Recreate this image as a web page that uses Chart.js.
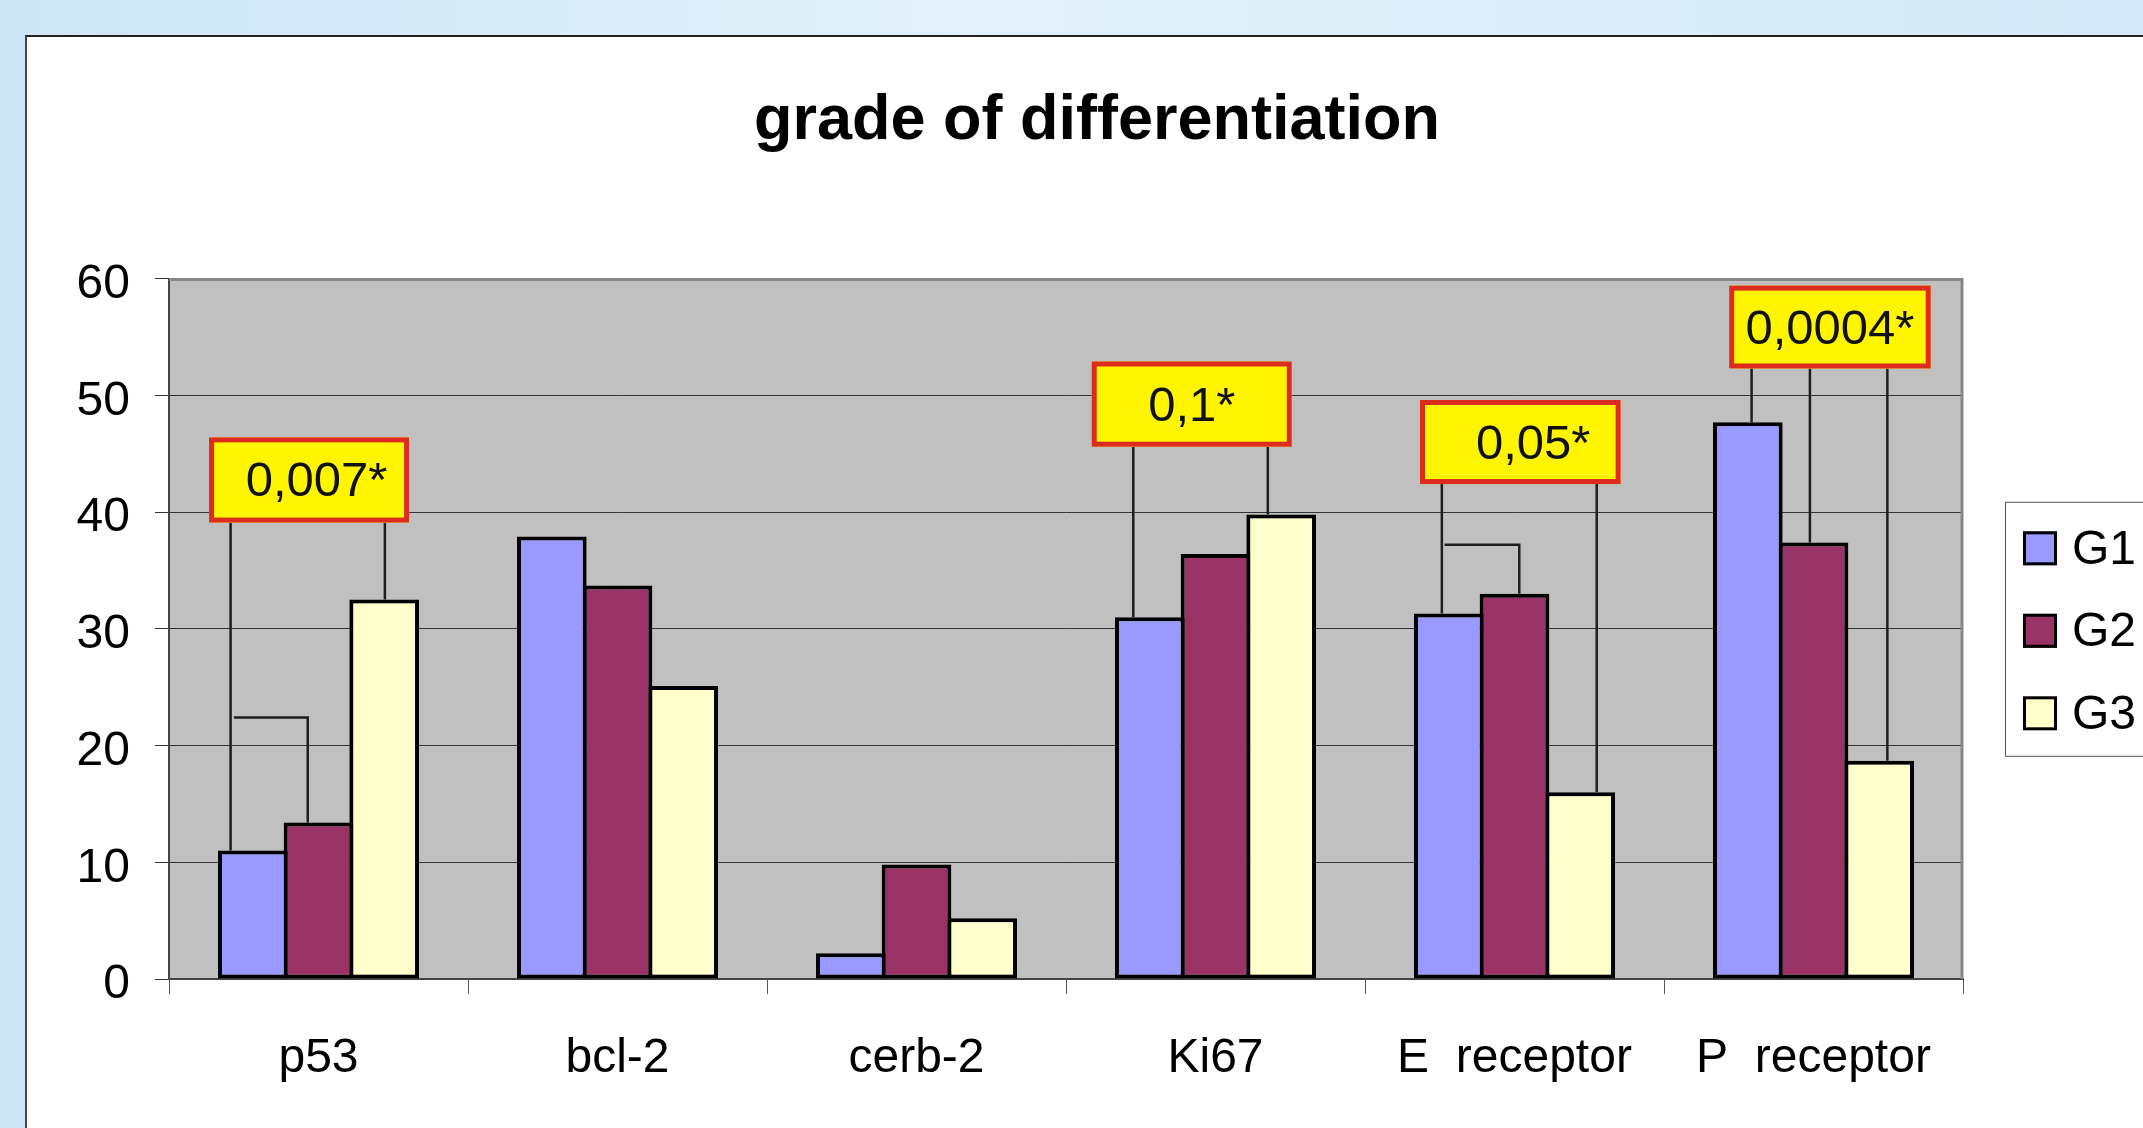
<!DOCTYPE html>
<html>
<head>
<meta charset="utf-8">
<script src="https://cdn.jsdelivr.net/npm/chart.js@4.4.1/dist/chart.umd.min.js"></script>
<style>
  html, body { margin: 0; padding: 0; width: 2143px; height: 1128px; overflow: hidden; }
  body { position: relative; background: linear-gradient(to right, #cde6f6 0%, #e2f1fb 45%, #d4eaf8 100%); }
  #panel { position: absolute; left: 25px; top: 35px; right: -10px; bottom: -10px; background: #fff;
           border-top: 2px solid #222; border-left: 2px solid #444; }
  #wrap { position: absolute; left: 26px; top: 38px; width: 2117px; height: 1090px; }
</style>
</head>
<body>
<div id="panel"></div>
<div id="wrap"><canvas id="myChart" width="2117" height="1090"></canvas></div>
<script>
// data
const categories = ['p53', 'bcl-2', 'cerb-2', 'Ki67', 'E  receptor', 'P  receptor'];
const seriesNames = ['G1', 'G2', 'G3'];
const g1 = [11, 37.9, 2.2, 31, 31.3, 47.7];
const g2 = [13.4, 33.7, 9.8, 36.4, 33, 37.4];
const g3 = [32.5, 25.1, 5.2, 39.8, 16, 18.7];
const yMax = 60;
const yStep = 10;

// p-value callouts: box and leg x are fractions of a category band, y in data units
const pNotes = [
  { cat: 0, text: '0,007*', box: [-0.366, 0.303, 46.4, 39.1], dx: 0.025,
    legs: [[-0.294, 0], [0.222, 2]], bracket: [-0.283, -0.036, 22.4, 1] },
  { cat: 3, text: '0,1*', box: [-0.414, 0.255, 52.9, 45.6], dx: 0,
    legs: [[-0.275, 0], [0.175, 2]] },
  { cat: 4, text: '0,05*', box: [-0.316, 0.355, 49.6, 42.4], dx: 0.043,
    legs: [[-0.243, 0], [0.275, 2]], bracket: [-0.234, 0.016, 37.2, 1] },
  { cat: 5, text: '0,0004*', box: [-0.282, 0.392, 59.4, 52.3], dx: 0,
    legs: [[-0.207, 0], [-0.012, 1], [0.247, 2]] }
];

const FONT = "'Liberation Sans', Arial, sans-serif";
Chart.defaults.font.family = FONT;

const plotFrame = {
  id: 'plotFrame',
  beforeDraw(chart) {
    const { ctx, chartArea: a } = chart;
    ctx.save();
    ctx.fillStyle = '#c0c0c0';
    ctx.fillRect(a.left, a.top, a.width, a.height);
    ctx.restore();
  },
  beforeDatasetsDraw(chart) {
    const { ctx, chartArea: a } = chart;
    ctx.save();
    ctx.strokeStyle = '#878787';
    ctx.lineWidth = 3;
    ctx.beginPath();
    ctx.moveTo(a.left, a.top + 1);
    ctx.lineTo(a.right - 1, a.top + 1);
    ctx.lineTo(a.right - 1, a.bottom);
    ctx.stroke();
    ctx.restore();
  }
};

const notesPlugin = {
  id: 'pNotes',
  afterDatasetsDraw(chart) {
    const { ctx, scales: { x, y } } = chart;
    const band = x.width / chart.data.labels.length;
    ctx.save();
    pNotes.forEach(n => {
      const cx = x.getPixelForValue(n.cat);
      const px = f => cx + f * band;
      const barTop = s => y.getPixelForValue(chart.data.datasets[s].data[n.cat]);
      const bx0 = px(n.box[0]), bx1 = px(n.box[1]);
      const by0 = y.getPixelForValue(n.box[2]), by1 = y.getPixelForValue(n.box[3]);

      ctx.strokeStyle = '#1e1e1e';
      ctx.lineWidth = 2.5;
      ctx.beginPath();
      n.legs.forEach(([f, s]) => {
        ctx.moveTo(px(f), by1);
        ctx.lineTo(px(f), barTop(s));
      });
      if (n.bracket) {
        const [f0, f1, v, s] = n.bracket;
        const yy = y.getPixelForValue(v);
        ctx.moveTo(px(f0), yy);
        ctx.lineTo(px(f1), yy);
        ctx.lineTo(px(f1), barTop(s));
      }
      ctx.stroke();

      ctx.fillStyle = '#fff500';
      ctx.fillRect(bx0, by0, bx1 - bx0, by1 - by0);
      ctx.strokeStyle = '#dc2b1f';
      ctx.lineWidth = 5;
      ctx.strokeRect(bx0 + 2.5, by0 + 2.5, bx1 - bx0 - 5, by1 - by0 - 5);

      ctx.fillStyle = '#111';
      ctx.font = '49px ' + FONT;
      ctx.textAlign = 'center';
      ctx.textBaseline = 'middle';
      ctx.fillText(n.text, (bx0 + bx1) / 2 + n.dx * band, (by0 + by1) / 2 + 3);
    });
    ctx.restore();
  }
};

// framed legend to the right of the plot
const legendBox = {
  id: 'legendBox',
  afterDraw(chart) {
    const { ctx, chartArea: a } = chart;
    const left = a.right + 42;
    const mid = (a.top + a.bottom) / 2;
    ctx.save();
    ctx.fillStyle = '#fff';
    ctx.fillRect(left, mid - 127, 400, 254);
    ctx.strokeStyle = '#555';
    ctx.lineWidth = 1;
    ctx.strokeRect(left + 0.5, mid - 127 + 0.5, 400, 254);
    chart.data.datasets.forEach((ds, i) => {
      const cy = mid + 2 + (i - 1) * 82.5;
      ctx.fillStyle = ds.backgroundColor;
      ctx.fillRect(left + 18, cy - 17, 34, 34);
      ctx.strokeStyle = '#000';
      ctx.lineWidth = 3;
      ctx.strokeRect(left + 19.5, cy - 15.5, 31, 31);
      ctx.fillStyle = '#000';
      ctx.font = '48px ' + FONT;
      ctx.textAlign = 'left';
      ctx.textBaseline = 'middle';
      ctx.fillText(ds.label, left + 67, cy + 2);
    });
    ctx.restore();
  }
};

const ctx = document.getElementById('myChart').getContext('2d');
const myChart = new Chart(ctx, {
  type: 'bar',
  data: {
    labels: categories,
    datasets: [
      { label: seriesNames[0], data: g1, backgroundColor: '#9999ff' },
      { label: seriesNames[1], data: g2, backgroundColor: '#993366' },
      { label: seriesNames[2], data: g3, backgroundColor: '#ffffcc' }
    ]
  },
  options: {
    responsive: false,
    animation: false,
    devicePixelRatio: 1,
    layout: { padding: { left: 40, right: 15, top: 0, bottom: 0 } },
    datasets: {
      bar: {
        borderColor: '#000',
        borderWidth: 4,
        borderSkipped: false,
        categoryPercentage: 0.659,
        barPercentage: 1.061
      }
    },
    plugins: {
      title: {
        display: true,
        text: 'grade of differentiation',
        color: '#000',
        font: { size: 63, weight: 'bold', lineHeight: 1.2 },
        padding: { top: 46, bottom: 119 }
      },
      // legend only reserves the space on the right; legendBox draws it
      legend: {
        display: true,
        position: 'right',
        maxWidth: 165,
        labels: { filter: () => false, padding: 300 }
      },
      tooltip: { enabled: false }
    },
    scales: {
      x: {
        grid: { drawOnChartArea: false, tickLength: 15, color: '#555', lineWidth: 1 },
        border: { color: '#444', width: 2 },
        ticks: { color: '#000', font: { size: 48 }, padding: 36, maxRotation: 0, autoSkip: false },
        afterFit: s => { s.height = 149; }
      },
      y: {
        min: 0,
        max: yMax,
        ticks: { stepSize: yStep, color: '#000', font: { size: 48 }, padding: 25, labelOffset: 6 },
        grid: { color: '#333', lineWidth: 1, tickLength: 14 },
        border: { color: '#444', width: 2 },
        afterFit: s => { s.width = 103; }
      }
    }
  },
  plugins: [plotFrame, notesPlugin, legendBox]
});
</script>
</body>
</html>
